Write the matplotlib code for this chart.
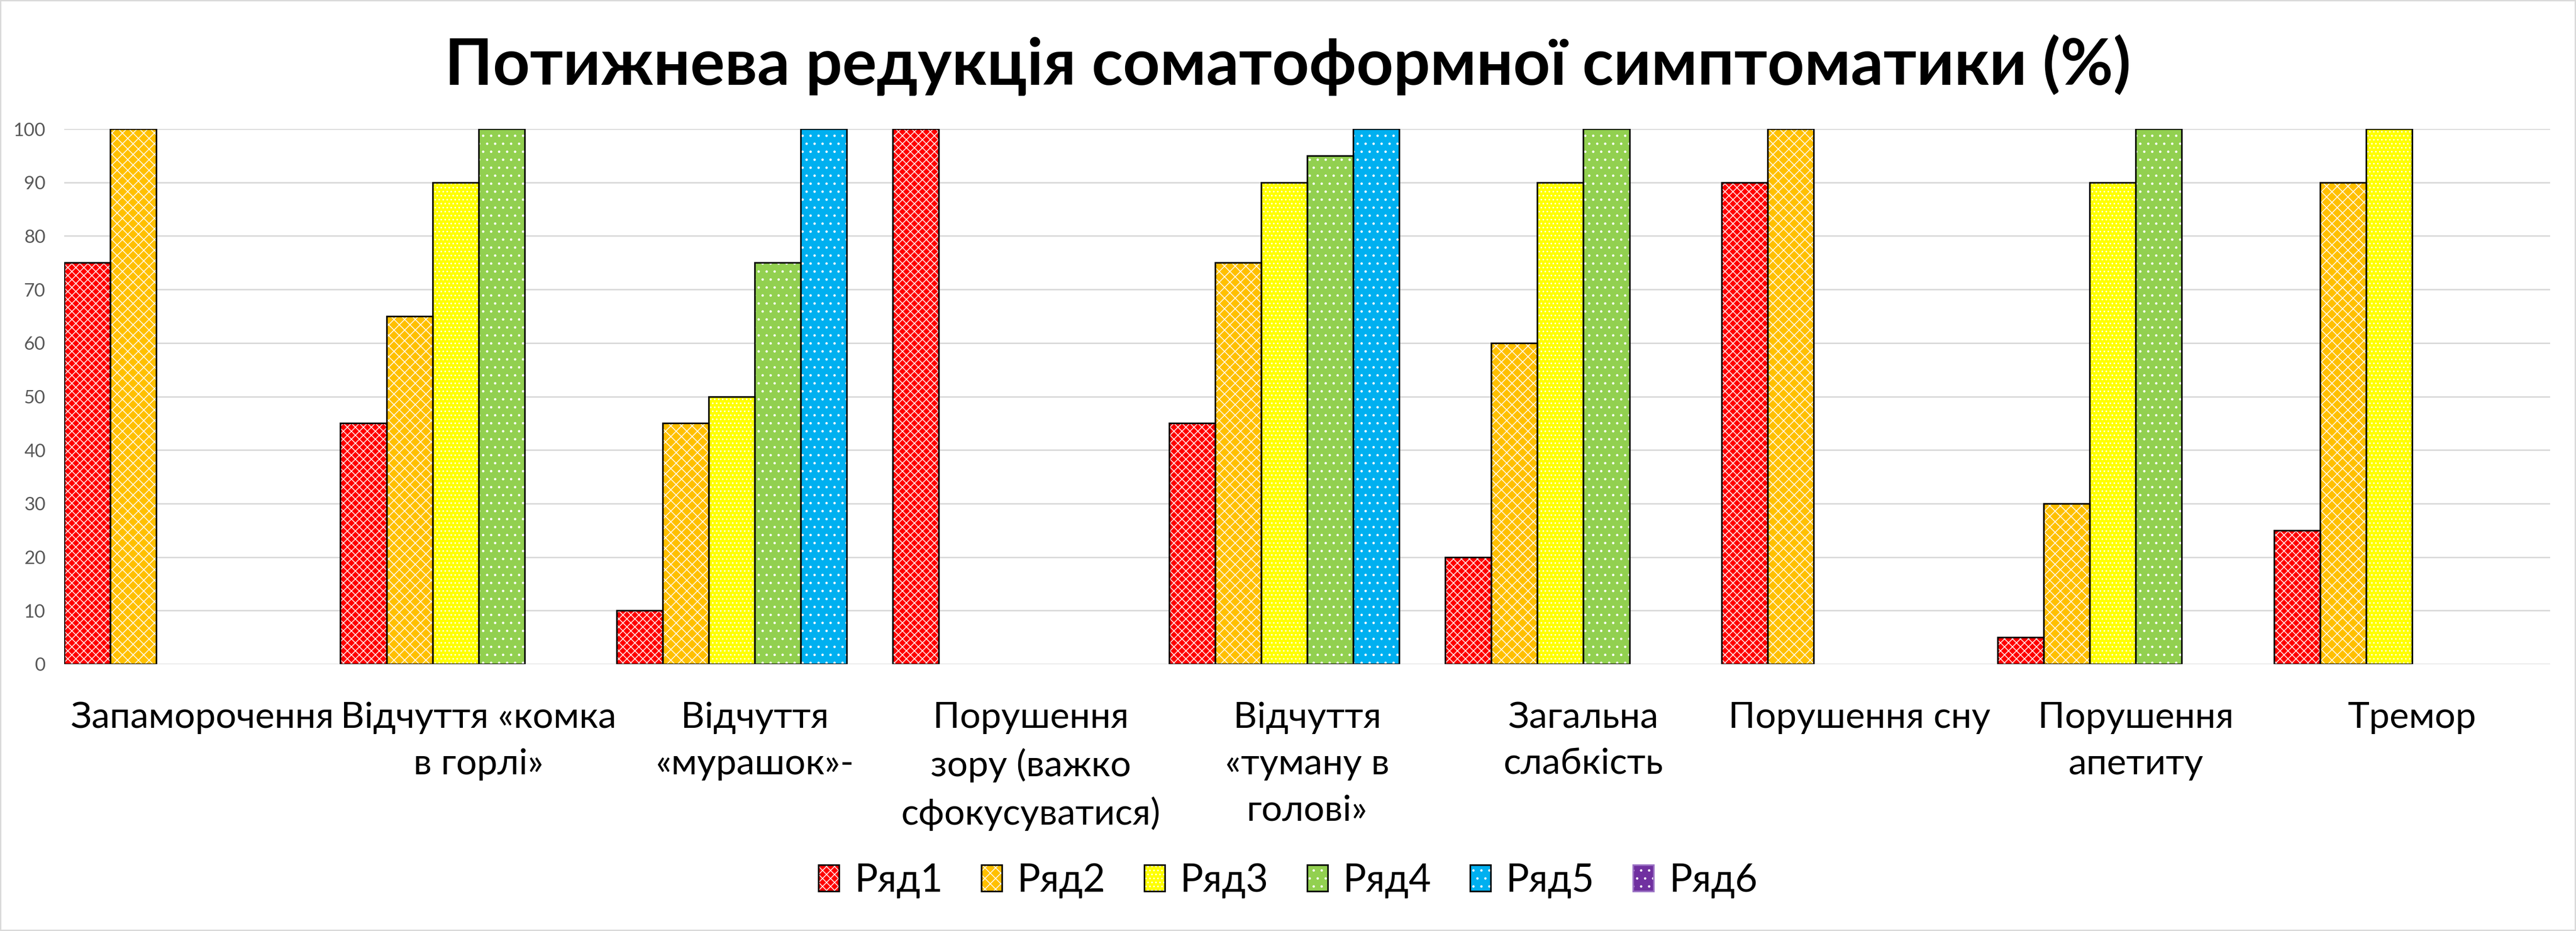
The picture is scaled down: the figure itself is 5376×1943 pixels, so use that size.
import numpy as np
import matplotlib
matplotlib.use('Agg')
import matplotlib.pyplot as plt
from matplotlib import transforms
from matplotlib.patches import Rectangle
from matplotlib.legend_handler import HandlerTuple


categories = ['Запаморочення', 'Відчуття «комка\nв горлі»', 'Відчуття\n«мурашок»-',
              'Порушення\nзору (важко\nсфокусуватися)', 'Відчуття\n«туману в\nголові»',
              'Загальна\nслабкість', 'Порушення сну', 'Порушення\nапетиту', 'Тремор']
series_names = ['Ряд1', 'Ряд2', 'Ряд3', 'Ряд4', 'Ряд5', 'Ряд6']
row1 = [75, 45, 10, 100, 45, 20, 90, 5, 25]
row2 = [100, 65, 45, 0, 75, 60, 100, 30, 90]
row3 = [0, 90, 50, 0, 90, 90, 0, 90, 100]
row4 = [0, 100, 75, 0, 95, 100, 0, 100, 0]
row5 = [0, 0, 100, 0, 100, 0, 0, 0, 0]
row6 = [0, 0, 0, 0, 0, 0, 0, 0, 0]
y_ticks = [0, 10, 20, 30, 40, 50, 60, 70, 80, 90, 100]

colors = ['#FF0000', '#FFC000', '#FFFF00', '#92D050', '#00B0F0', '#7030A0']
hatches = ['xxxx', 'xxx', '....', '..', '..', '..']

plt.rcParams['font.family'] = ['Lato', 'DejaVu Sans']
plt.rcParams['hatch.linewidth'] = 0.6

W, H = 5376, 1943
dpi = 200
fig = plt.figure(figsize=(W / dpi, H / dpi), dpi=dpi)
ax = fig.add_axes([134 / W, 1 - 1386 / H, (5322 - 134) / W, (1386 - 269) / H])

data = [row1, row2, row3, row4, row5, row6]
n = len(data)
x = np.arange(len(categories))
bw = 1.0 / n
handles = []
for j, vals in enumerate(data):
    vals = np.array(vals, dtype=float)
    pos = x + (j - (n - 1) / 2) * bw
    ax.bar(pos, vals, bw, color=colors[j], edgecolor='white', linewidth=0,
           hatch=hatches[j], zorder=2)
    edges = ['black' if v > 0 else 'none' for v in vals]
    ax.bar(pos, vals, bw, fill=False, edgecolor=edges, linewidth=1.2, zorder=3)
    hf = Rectangle((0, 0), 1, 1, facecolor=colors[j], edgecolor='white', linewidth=0,
                   hatch=hatches[j])
    ec = 'black' if j < 5 else '#9B72C4'
    he = Rectangle((0, 0), 1, 1, fill=False, edgecolor=ec, linewidth=1.2)
    handles.append((hf, he))

ax.set_xlim(-0.5, len(categories) - 0.5)
ax.set_ylim(0, 100)
ax.set_yticks(y_ticks)
ax.set_xticks([])
ax.yaxis.grid(True, color='#D9D9D9', linewidth=1.1, zorder=0)
ax.set_axisbelow(True)
for s in ax.spines.values():
    s.set_visible(False)
ax.tick_params(axis='y', length=0, pad=14, labelsize=14, labelcolor='#595959')

# category labels under the bars
trans = transforms.blended_transform_factory(ax.transData, fig.transFigure)
for i, lab in enumerate(categories):
    ax.text(i, 1 - 1463 / H, lab, transform=trans, ha='center', va='top',
            multialignment='center', fontsize=27.5, linespacing=1.5)

fig.text(0.5, 1 - 177 / H, 'Потижнева редукція соматоформної симптоматики (%)',
         ha='center', va='baseline', fontsize=48.5, fontweight='bold')

fig.legend(handles, series_names, loc='center', bbox_to_anchor=(0.5, 1 - 1838 / H),
           ncol=6, frameon=False, fontsize=29, handlelength=0.53, handleheight=0.67,
           handletextpad=0.4, columnspacing=1.0,
           handler_map={tuple: HandlerTuple(ndivide=1, pad=0)})

fig.patches.append(Rectangle((0, 0), 1, 1, transform=fig.transFigure, fill=False,
                             edgecolor='#D9D9D9', linewidth=2))

fig.savefig('out.png', dpi=dpi)
